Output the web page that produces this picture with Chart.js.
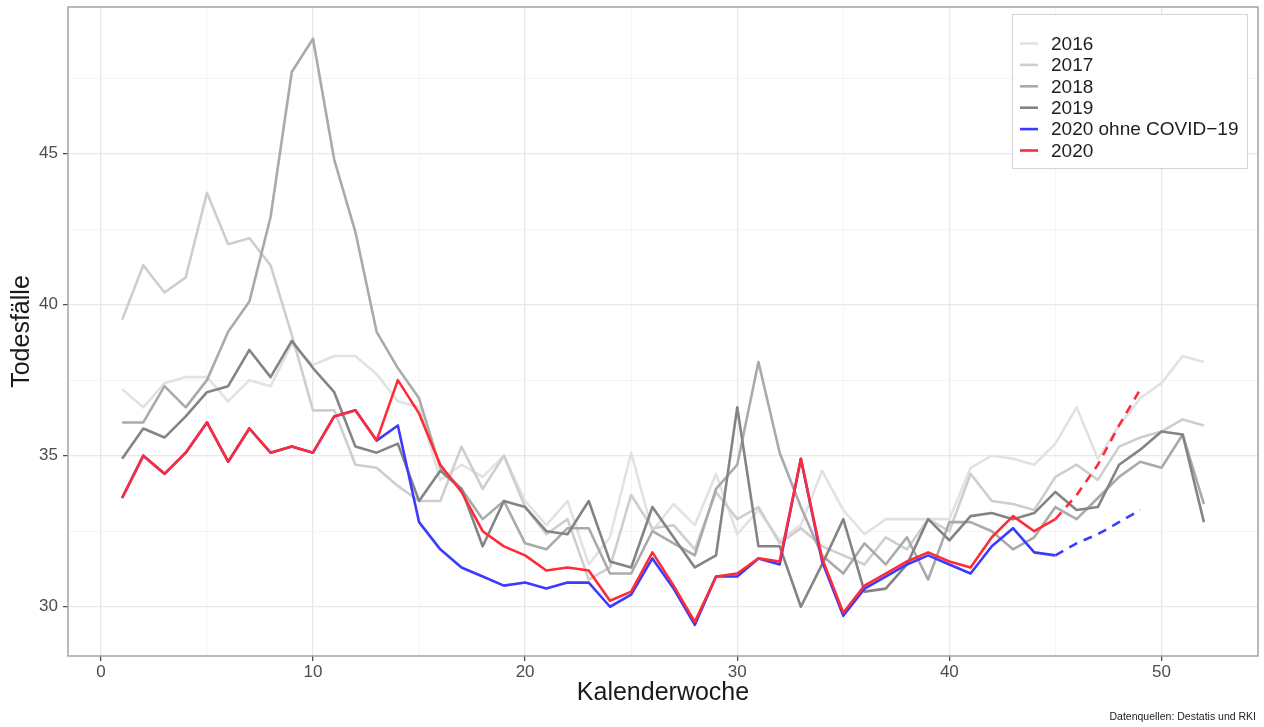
<!DOCTYPE html>
<html>
<head>
<meta charset="utf-8">
<title>Todesfälle je Kalenderwoche</title>
<script src="https://cdn.jsdelivr.net/npm/chart.js@4"></script>
<style>
  html, body { margin: 0; padding: 0; background: #fff; }
</style>
</head>
<body>
<canvas id="deaths" width="1264" height="727"></canvas>
<script>
// Kalenderwochen
const WEEKS = [1, 2, 3, 4, 5, 6, 7, 8, 9, 10, 11, 12, 13, 14, 15, 16, 17, 18, 19, 20,
  21, 22, 23, 24, 25, 26, 27, 28, 29, 30, 31, 32, 33, 34, 35, 36, 37, 38, 39, 40,
  41, 42, 43, 44, 45, 46, 47, 48, 49, 50, 51, 52];
const WEEKS_2020 = WEEKS.slice(0, 45);
const WEEKS_2020_PROJ = [45, 46, 47, 48, 49];

const DEATHS_2016 = [37.2, 36.6, 37.4, 37.6, 37.6, 36.8, 37.5, 37.3, 38.7, 38.0,
  38.3, 38.3, 37.7, 36.8, 36.6, 34.2, 34.7, 34.3, 35.0, 33.5,
  32.7, 33.5, 31.4, 32.3, 35.1, 32.5, 33.4, 32.7, 34.4, 32.4,
  33.2, 32.2, 32.7, 34.5, 33.2, 32.4, 32.9, 32.9, 32.9, 32.9,
  34.6, 35.0, 34.9, 34.7, 35.4, 36.6, 34.9, 36.0, 36.9, 37.4,
  38.3, 38.1];
const DEATHS_2017 = [39.5, 41.3, 40.4, 40.9, 43.7, 42.0, 42.2, 41.3, 39.0, 36.5,
  36.5, 34.7, 34.6, 34.0, 33.5, 33.5, 35.3, 33.9, 35.0, 33.3,
  32.4, 32.9, 30.9, 31.3, 33.7, 32.6, 32.7, 31.9, 33.8, 32.9,
  33.3, 32.1, 32.6, 32.0, 31.7, 31.4, 32.3, 31.9, 32.9, 32.5,
  34.4, 33.5, 33.4, 33.2, 34.3, 34.7, 34.2, 35.3, 35.6, 35.8,
  36.2, 36.0];
const DEATHS_2018 = [36.1, 36.1, 37.3, 36.6, 37.5, 39.1, 40.1, 42.9, 47.7, 48.8,
  44.8, 42.4, 39.1, 37.9, 36.9, 34.6, 33.9, 32.9, 33.5, 32.1,
  31.9, 32.6, 32.6, 31.1, 31.1, 32.5, 32.1, 31.7, 33.9, 34.7,
  38.1, 35.1, 33.3, 31.7, 31.1, 32.1, 31.4, 32.3, 30.9, 32.8,
  32.8, 32.5, 31.9, 32.3, 33.3, 32.9, 33.6, 34.3, 34.8, 34.6,
  35.7, 33.4];
const DEATHS_2019 = [34.9, 35.9, 35.6, 36.3, 37.1, 37.3, 38.5, 37.6, 38.8, 37.9,
  37.1, 35.3, 35.1, 35.4, 33.5, 34.5, 33.9, 32.0, 33.5, 33.3,
  32.5, 32.4, 33.5, 31.5, 31.3, 33.3, 32.3, 31.3, 31.7, 36.6,
  32.0, 32.0, 30.0, 31.4, 32.9, 30.5, 30.6, 31.4, 32.9, 32.2,
  33.0, 33.1, 32.9, 33.1, 33.8, 33.2, 33.3, 34.7, 35.2, 35.8,
  35.7, 32.8];
const DEATHS_2020 = [33.6, 35.0, 34.4, 35.1, 36.1, 34.8, 35.9, 35.1, 35.3, 35.1,
  36.3, 36.5, 35.5, 37.5, 36.4, 34.7, 33.8, 32.5, 32.0, 31.7,
  31.2, 31.3, 31.2, 30.2, 30.5, 31.8, 30.7, 29.5, 31.0, 31.1,
  31.6, 31.5, 34.9, 31.6, 29.8, 30.7, 31.1, 31.5, 31.8, 31.5,
  31.3, 32.3, 33.0, 32.5, 32.9];
const DEATHS_2020_PROJ = [32.9, 33.7, 34.7, 36.0, 37.2];
const NONCOVID_2020 = [33.6, 35.0, 34.4, 35.1, 36.1, 34.8, 35.9, 35.1, 35.3, 35.1,
  36.3, 36.5, 35.5, 36.0, 32.8, 31.9, 31.3, 31.0, 30.7, 30.8,
  30.6, 30.8, 30.8, 30.0, 30.4, 31.6, 30.6, 29.4, 31.0, 31.0,
  31.6, 31.4, 34.9, 31.5, 29.7, 30.6, 31.0, 31.4, 31.7, 31.4,
  31.1, 32.0, 32.6, 31.8, 31.7];
const NONCOVID_2020_PROJ = [31.7, 32.1, 32.4, 32.8, 33.2];

const X_TICKS = [0, 5, 10, 15, 20, 25, 30, 35, 40, 45, 50];
const X_LABELS = [0, 10, 20, 30, 40, 50];
const Y_TICKS = [30, 32.5, 35, 37.5, 40, 42.5, 45, 47.5];
const Y_LABELS = [30, 35, 40, 45];

const FONT = '"Liberation Sans", Arial, Helvetica, sans-serif';
const COLORS = {
  y2016: "#e2e2e2",
  y2017: "#cecece",
  y2018: "#aaaaaa",
  y2019: "#848484",
  noncovid: "#3b3bff",
  all: "#ff2b36",
};

const LEGEND = [
  { text: "2016", color: COLORS.y2016 },
  { text: "2017", color: COLORS.y2017 },
  { text: "2018", color: COLORS.y2018 },
  { text: "2019", color: COLORS.y2019 },
  { text: "2020 ohne COVID\u221219", color: COLORS.noncovid },
  { text: "2020", color: COLORS.all },
];

function points(weeks, values) {
  return weeks.map((w, i) => ({ x: w, y: values[i] }));
}

function line(label, weeks, values, color, dashed) {
  return {
    label: label,
    data: points(weeks, values),
    borderColor: color,
    borderWidth: 2.6,
    borderDash: dashed ? [9, 7] : [],
    borderJoinStyle: "round",
    pointRadius: 0,
    tension: 0,
    fill: false,
  };
}

// first dataset is drawn on top
const deathsData = {
  datasets: [
    line("2020 Prognose", WEEKS_2020_PROJ, DEATHS_2020_PROJ, COLORS.all, true),
    line("2020", WEEKS_2020, DEATHS_2020, COLORS.all, false),
    line("2020 ohne COVID-19 Prognose", WEEKS_2020_PROJ, NONCOVID_2020_PROJ, COLORS.noncovid, true),
    line("2020 ohne COVID-19", WEEKS_2020, NONCOVID_2020, COLORS.noncovid, false),
    line("2019", WEEKS, DEATHS_2019, COLORS.y2019, false),
    line("2018", WEEKS, DEATHS_2018, COLORS.y2018, false),
    line("2017", WEEKS, DEATHS_2017, COLORS.y2017, false),
    line("2016", WEEKS, DEATHS_2016, COLORS.y2016, false),
  ],
};

const panelAndLegend = {
  id: "panelAndLegend",
  afterDatasetsDraw(chart) {
    const { ctx, chartArea: a } = chart;
    ctx.save();
    ctx.strokeStyle = "#a3a3a3";
    ctx.lineWidth = 1.5;
    ctx.strokeRect(a.left, a.top, a.right - a.left, a.bottom - a.top);

    // legend box in the upper right corner
    const bx = a.right - 246, by = a.top + 7, bw = 235, bh = 154;
    ctx.fillStyle = "#fff";
    ctx.fillRect(bx, by, bw, bh);
    ctx.strokeStyle = "#d4d4d4";
    ctx.lineWidth = 1;
    ctx.strokeRect(bx + 0.5, by + 0.5, bw, bh);

    ctx.font = "19px " + FONT;
    ctx.textBaseline = "middle";
    ctx.textAlign = "left";
    LEGEND.forEach((item, i) => {
      const y = by + 29.5 + i * 21.4;
      ctx.strokeStyle = item.color;
      ctx.lineWidth = 2.6;
      ctx.beginPath();
      ctx.moveTo(bx + 8, y);
      ctx.lineTo(bx + 26, y);
      ctx.stroke();
      ctx.fillStyle = "#1e1e1e";
      ctx.fillText(item.text, bx + 39, y + 1);
    });

    // source note
    ctx.font = "10.5px " + FONT;
    ctx.textAlign = "right";
    ctx.textBaseline = "alphabetic";
    ctx.fillStyle = "#222";
    ctx.fillText("Datenquellen: Destatis und RKI", chart.width - 8, 720);
    ctx.restore();
  },
};

const isMajor = (list, v) => list.includes(v);

const deathsConfig = {
  type: "line",
  data: deathsData,
  options: {
    responsive: false,
    animation: false,
    devicePixelRatio: 1,
    layout: { padding: { top: 7, right: 6, left: 0, bottom: 0 } },
    plugins: {
      legend: { display: false },
      tooltip: { enabled: false },
    },
    scales: {
      x: {
        type: "linear",
        min: -1.55,
        max: 54.55,
        afterBuildTicks(scale) {
          scale.ticks = X_TICKS.map((v) => ({ value: v }));
        },
        afterFit(scale) {
          scale.height = 71;
          scale.paddingLeft = 0;
          scale.paddingRight = 0;
        },
        border: { display: false },
        grid: {
          color: (c) => (isMajor(X_LABELS, c.tick.value) ? "#e8e8e8" : "#f3f3f3"),
          lineWidth: (c) => (isMajor(X_LABELS, c.tick.value) ? 1.3 : 0.9),
          tickColor: (c) => (isMajor(X_LABELS, c.tick.value) ? "#444" : "rgba(0,0,0,0)"),
          tickLength: 5,
          tickWidth: 1.2,
        },
        ticks: {
          autoSkip: false,
          maxRotation: 0,
          padding: 1,
          color: "#4d4d4d",
          font: { family: FONT, size: 17 },
          callback: (v) => (isMajor(X_LABELS, v) ? String(v) : ""),
        },
        title: {
          display: true,
          text: "Kalenderwoche",
          color: "#1a1a1a",
          font: { family: FONT, size: 25 },
          padding: { top: 0, bottom: 19 },
        },
      },
      y: {
        type: "linear",
        min: 28.37,
        max: 49.85,
        afterBuildTicks(scale) {
          scale.ticks = Y_TICKS.map((v) => ({ value: v }));
        },
        afterFit(scale) {
          scale.width = 68;
          scale.paddingTop = 0;
          scale.paddingBottom = 0;
        },
        border: { display: false },
        grid: {
          color: (c) => (isMajor(Y_LABELS, c.tick.value) ? "#e8e8e8" : "#f3f3f3"),
          lineWidth: (c) => (isMajor(Y_LABELS, c.tick.value) ? 1.3 : 0.9),
          tickColor: (c) => (isMajor(Y_LABELS, c.tick.value) ? "#444" : "rgba(0,0,0,0)"),
          tickLength: 5,
          tickWidth: 1.2,
        },
        ticks: {
          autoSkip: false,
          padding: 5,
          color: "#4d4d4d",
          font: { family: FONT, size: 17 },
          callback: (v) => (isMajor(Y_LABELS, v) ? String(v) : ""),
        },
        title: {
          display: true,
          text: "Todesfälle",
          color: "#1a1a1a",
          font: { family: FONT, size: 25 },
          padding: { top: 7, bottom: 0 },
        },
      },
    },
  },
  plugins: [panelAndLegend],
};

let deathsChart;
(function createDeathsChart() {
  deathsChart = new Chart(document.getElementById("deaths"), deathsConfig);
})();
</script>
</body>
</html>
